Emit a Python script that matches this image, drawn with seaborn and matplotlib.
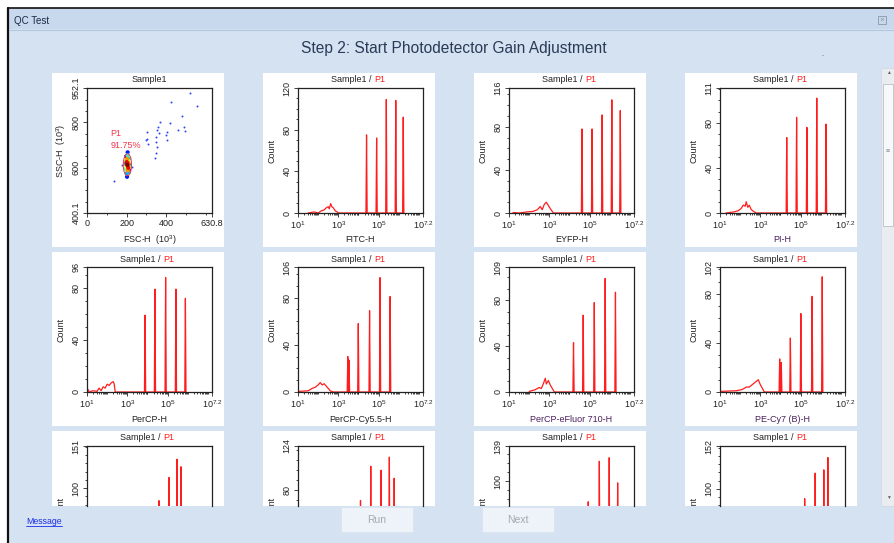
import numpy as np
import pandas as pd
import matplotlib
matplotlib.use('Agg')
import matplotlib.pyplot as plt
import seaborn as sns
from matplotlib.patches import Rectangle, Ellipse
from matplotlib.ticker import FixedLocator, MultipleLocator, NullFormatter
from matplotlib.lines import Line2D
from matplotlib.transforms import Bbox, TransformedBbox

W, H = 894, 543

# ---------------- data ----------------
# scatter panel (FSC-H vs SSC-H, units of 10^3)
cluster_fsc = [204, 200, 208, 203, 206, 199, 210, 201, 207, 197, 212, 204, 196, 213,
               200, 209, 194, 215, 205, 202, 198, 211, 203, 205]
cluster_ssc = [612, 625, 600, 640, 588, 612, 620, 598, 632, 630, 605, 655, 595, 640,
               575, 580, 618, 612, 668, 560, 650, 590, 615, 622]
cluster_level = [1.0, 0.9, 0.9, 0.75, 0.75, 0.7, 0.7, 0.6, 0.6, 0.5, 0.5, 0.4, 0.4, 0.35,
                 0.3, 0.3, 0.25, 0.2, 0.15, 0.15, 0.1, 0.1, 0.95, 0.85]
outlier_fsc = [522, 555, 425, 477, 366, 418, 304, 355, 405, 460, 489, 497, 346, 304,
               296, 348, 405, 346, 341, 137, 363, 308, 397, 179, 229, 360, 352]
outlier_ssc = [931, 874, 891, 827, 804, 797, 757, 767, 760, 767, 779, 763, 737, 725,
               722, 715, 722, 663, 645, 543, 752, 707, 745, 610, 603, 780, 690]
gate_center = (204, 613)
gate_size = (42, 97)
gate_name = 'P1'
gate_pct = '91.75%'

# histogram panels
hist_channels = ['FITC-H', 'EYFP-H', 'PI-H', 'PerCP-H', 'PerCP-Cy5.5-H',
                 'PerCP-eFluor 710-H', 'PE-Cy7 (B)-H', '', '', '', '']
hist_ymax = [120, 116, 111, 96, 106, 109, 102, 151, 124, 139, 152]
hist_yticks = [[0, 40, 80], [0, 40, 80], [0, 40, 80], [0, 40, 80], [0, 40, 80],
               [0, 40, 80], [0, 40, 80], [0, 50, 100], [0, 40, 80], [0, 50, 100],
               [0, 50, 100]]
label_purple = [False, False, True, False, False, True, True, False, False, False, False]

# peak positions (log10 of intensity) and heights (count)
peak_log = [
    [4.40, 4.90, 5.38, 5.85, 6.22],
    [4.62, 5.12, 5.62, 6.10, 6.52],
    [4.31, 4.80, 5.31, 5.80, 6.26],
    [3.88, 4.37, 4.90, 5.41, 5.88],
    [3.47, 3.53, 3.99, 4.55, 5.07, 5.57],
    [4.20, 4.68, 5.23, 5.77, 6.28],
    [3.96, 4.04, 4.49, 5.01, 5.57, 6.07],
    [4.05, 4.57, 5.07, 5.46, 5.66],
    [4.10, 4.61, 5.12, 5.53, 5.77],
    [4.45, 4.93, 5.48, 5.97, 6.39],
    [4.70, 5.20, 5.72, 6.15, 6.35],
]
peak_count = [
    [75, 72, 109, 108, 92],
    [78, 78, 91, 105, 95],
    [67, 85, 76, 102, 79],
    [59, 79, 88, 79, 72],
    [30, 27, 58, 69, 97, 81],
    [43, 67, 78, 99, 87],
    [27, 24, 44, 64, 78, 94],
    [60, 85, 113, 135, 126],
    [70, 104, 100, 113, 92],
    [60, 77, 122, 126, 98],
    [70, 88, 119, 123, 138],
]
# low-intensity debris hump
hump_log = [
    [1.5, 1.8, 2.0, 2.15, 2.3, 2.4, 2.5, 2.55, 2.62, 2.68, 2.75, 2.85, 2.95, 3.0],
    [1.2, 1.5, 1.9, 2.2, 2.4, 2.55, 2.65, 2.75, 2.85, 2.95, 3.05, 3.2],
    [1.3, 1.7, 1.9, 2.05, 2.15, 2.25, 2.3, 2.38, 2.45, 2.55, 2.7, 2.8],
    [1.0, 1.05, 1.1, 1.3, 1.5, 1.6, 1.7, 1.8, 1.9, 2.0, 2.1, 2.2, 2.3, 2.35, 2.4],
    [1.0, 1.5, 1.7, 1.85, 2.0, 2.1, 2.2, 2.3, 2.45, 2.6, 2.75],
    [2.0, 2.3, 2.5, 2.6, 2.7, 2.8, 2.85, 2.95, 3.05, 3.15, 3.25],
    [1.0, 1.8, 2.1, 2.3, 2.45, 2.6, 2.75, 2.9, 3.0, 3.1, 3.2],
    [1.5, 2.0, 2.5, 3.0], [1.5, 2.0, 2.5, 3.0], [1.5, 2.0, 2.5, 3.0], [1.5, 2.0, 2.5, 3.0],
]
hump_count = [
    [0, 1, 0, 2, 3, 5, 6, 4, 9, 6, 5, 2, 1, 0],
    [0.5, 0, 1, 1.5, 3, 6, 3, 8, 10, 7, 4, 0],
    [0, 1, 2, 4, 7, 6, 10, 5, 7, 3, 1, 0],
    [0, 2, 0, 1, 0.5, 3, 1, 4, 3, 6, 5, 7, 8, 6, 0],
    [0.5, 1, 3, 4, 6, 8, 6, 7, 4, 1, 0],
    [0.5, 2, 4, 3, 7, 12, 7, 10, 6, 3, 0],
    [0.5, 1, 2, 4, 4, 6, 8, 10, 6, 3, 0],
    [0, 4, 8, 0], [0, 4, 8, 0], [0, 4, 8, 0], [0, 4, 8, 0],
]

# ---------------- style ----------------
sns.set_theme(style='white')
plt.rcParams['font.family'] = ['Liberation Sans', 'DejaVu Sans']
plt.rcParams['mathtext.default'] = 'regular'

BG = '#D5E2F2'
TITLEBAR = '#C8D8ED'
RED = '#FF1E1E'
GATE_RED = '#F0364A'
PURPLE = '#4A1F5C'
FS = 6.5
CLIP_Y = 506  # bottom edge of the scrolled plot area


def px_axes(fig, x, y, w, h):
    return fig.add_axes([x / W, 1 - (y + h) / H, w / W, h / H])


def px_rect(fig, x, y, w, h, **kw):
    fig.add_artist(Rectangle((x / W, 1 - (y + h) / H), w / W, h / H,
                             transform=fig.transFigure, **kw))


def px_text(fig, x, y, s, **kw):
    fig.text(x / W, 1 - y / H, s, **kw)


def px_line(fig, xs, ys, **kw):
    fig.add_artist(Line2D([x / W for x in xs], [1 - y / H for y in ys],
                          transform=fig.transFigure, **kw))


def style_axes(ax):
    for sp in ax.spines.values():
        sp.set_visible(True)
        sp.set_color('#222222')
        sp.set_linewidth(0.9)
    ax.tick_params(which='both', direction='out', colors='#222222', labelsize=FS,
                   width=0.6, pad=1.5)
    ax.tick_params(which='major', length=3)
    ax.tick_params(which='minor', length=1.6)
    ax.tick_params(axis='x', which='both', bottom=True)
    ax.tick_params(axis='y', which='both', left=True)
    for lab in ax.get_yticklabels():
        lab.set_rotation(90)
        lab.set_va('center')
    ax.set_xlabel('')
    ax.set_ylabel('')
    ax.grid(False)


def panel_title(ax, y, gated=True):
    if gated:
        ax.text(0.61, y, 'Sample1 / ', transform=ax.transAxes, ha='right',
                va='center', fontsize=FS, color='#222222')
        ax.text(0.61, y, 'P1', transform=ax.transAxes, ha='left',
                va='center', fontsize=FS, color=RED)
    else:
        ax.text(0.5, y, 'Sample1', transform=ax.transAxes, ha='center',
                va='center', fontsize=FS, color='#222222')


def hist_frame(hx, hy, px, py, width=0.03):
    xs = list(hx)
    ys = list(hy)
    for c, h in zip(px, py):
        xs += [c - width, c, c + width]
        ys += [0, h, 0]
    return pd.DataFrame({'intensity': 10 ** np.array(xs), 'count': ys})


fig = plt.figure(figsize=(W / 100, H / 100), dpi=100)
fig.patch.set_facecolor('white')
clip_box = TransformedBbox(Bbox([[0, 1 - CLIP_Y / H], [1, 1]]), fig.transFigure)

# window chrome
px_rect(fig, 8, 8, W - 8, H - 8, facecolor=BG, edgecolor='none', zorder=-3)
px_rect(fig, 8, 8, W - 8, 21, facecolor=TITLEBAR, edgecolor='none', zorder=-2)
px_line(fig, [8, 8], [7.5, H], color='#111111', lw=1.6, zorder=-1)
px_line(fig, [8, W], [8, 8], color='#111111', lw=1.2, zorder=-1)
px_line(fig, [9, W], [29.5, 29.5], color='#B5C7DF', lw=0.8, zorder=-1)
px_text(fig, 14, 21, 'QC Test', fontsize=7, color='#1A2A40', va='center', ha='left')
px_rect(fig, 878, 16, 8, 8, facecolor='none', edgecolor='#8C97A6', lw=0.6, zorder=1)
px_text(fig, 882, 20, '×', fontsize=6, color='#8C97A6', va='center', ha='center')
px_text(fig, 454, 49, 'Step 2: Start Photodetector Gain Adjustment', fontsize=11.2,
        color='#2A3B57', va='center', ha='center')
px_text(fig, 822, 54, '.', fontsize=5, color='#333333', va='center', ha='center')

col_x = [52, 263, 474, 685]
row_y = [73, 252, 431]
jet = matplotlib.colormaps['jet']

for i in range(12):
    r, c = divmod(i, 4)
    bx, by = col_x[c], row_y[r]
    box_h = min(174, CLIP_Y - by)
    px_rect(fig, bx, by, 172, box_h, facecolor='white', edgecolor='none', zorder=-1)
    ax_top = by + 15
    ax_h = min(125, CLIP_Y - ax_top)
    ax = px_axes(fig, bx + 35, ax_top, 125, ax_h)
    ax.set_facecolor('white')
    ty = 1 + 8 / ax_h

    if i == 0:
        order = np.argsort(cluster_level)
        cl = pd.DataFrame({'fsc': np.array(cluster_fsc)[order],
                           'ssc': np.array(cluster_ssc)[order],
                           'level': np.array(cluster_level)[order]})
        sns.scatterplot(x=outlier_fsc, y=outlier_ssc, color='#2F45F5', s=2,
                        linewidth=0, ax=ax)
        sns.scatterplot(data=cl, x='fsc', y='ssc', hue='level', palette=jet,
                        hue_norm=(0, 1), s=9, linewidth=0, legend=False, ax=ax)
        ax.add_patch(Ellipse(gate_center, gate_size[0], gate_size[1], facecolor='none',
                             edgecolor=GATE_RED, lw=0.7))
        ax.text(117, 749, gate_name, fontsize=FS, color=GATE_RED, ha='left', va='center')
        ax.text(117, 697, gate_pct, fontsize=FS, color=GATE_RED, ha='left', va='center')
        ax.set_xlim(0, 630.8)
        ax.set_ylim(400.1, 952.1)
        ax.xaxis.set_major_locator(FixedLocator([0, 200, 400, 630.8]))
        ax.set_xticklabels(['0', '200', '400', '630.8'])
        ax.yaxis.set_major_locator(FixedLocator([400.1, 600, 800, 952.1]))
        ax.set_yticklabels(['400.1', '600', '800', '952.1'])
        ax.xaxis.set_minor_locator(MultipleLocator(100))
        ax.yaxis.set_minor_locator(MultipleLocator(50))
        style_axes(ax)
        ax.text(0.5, -27 / 125, 'FSC-H  (10$^3$)', transform=ax.transAxes, ha='center',
                va='center', fontsize=FS, color='#222222')
        ax.text(-26 / 125, 0.5, 'SSC-H  (10$^3$)', transform=ax.transAxes, ha='center',
                va='center', rotation=90, fontsize=FS, color='#222222')
        panel_title(ax, ty, gated=False)
        continue

    k = i - 1
    clipped = ax_h < 125
    df = hist_frame(hump_log[k], hump_count[k], peak_log[k], peak_count[k])
    sns.lineplot(data=df, x='intensity', y='count', sort=False, estimator=None,
                 color=RED, lw=0.9, ax=ax)
    ax.set_xscale('log')
    ax.set_xlim(10, 10 ** 7.2)
    # a clipped panel only shows the top part of its 0..max range
    ax.set_ylim(hist_ymax[k] * (1 - ax_h / 125), hist_ymax[k])
    yt = hist_yticks[k] + [hist_ymax[k]]
    ax.yaxis.set_major_locator(FixedLocator(yt))
    ax.set_yticklabels([str(v) for v in yt])
    ax.yaxis.set_minor_locator(MultipleLocator(10))
    if clipped:
        ax.set_xticks([])
        ax.xaxis.set_minor_locator(FixedLocator([]))
    else:
        ax.xaxis.set_major_locator(FixedLocator([10, 1e3, 1e5, 10 ** 7.2]))
        ax.set_xticklabels(['$10^{1}$', '$10^{3}$', '$10^{5}$', '$10^{7.2}$'])
        minor = [m * 10 ** d for d in range(1, 8) for m in range(1, 10)
                 if m * 10 ** d < 10 ** 7.2 and not (m == 1 and d in (1, 3, 5))]
        ax.xaxis.set_minor_locator(FixedLocator(minor))
        ax.xaxis.set_minor_formatter(NullFormatter())
    style_axes(ax)
    if clipped:
        ax.spines['bottom'].set_visible(False)
        cnt = ax.text(-26 / 125, (125 / 2) / 125, 'Count', transform=ax.transAxes,
                      ha='center', va='center', rotation=90, fontsize=FS, color='#222222')
        # transform: place relative to full panel height, then clip to the visible area
        cnt.set_position((-26 / 125, 1 - 62.5 / ax_h))
        cnt.set_clip_box(clip_box)
        cnt.set_clip_on(True)
    else:
        ax.text(0.5, -27 / 125, hist_channels[k], transform=ax.transAxes, ha='center',
                va='center', fontsize=FS,
                color=PURPLE if label_purple[k] else '#222222')
        ax.text(-26 / 125, 0.5, 'Count', transform=ax.transAxes, ha='center',
                va='center', rotation=90, fontsize=FS, color='#222222')
    panel_title(ax, ty)

# scrollbar
px_rect(fig, 881, 68, 13, 438, facecolor='#E9EDF2', edgecolor='#D0D6DE', lw=0.5, zorder=6)
px_rect(fig, 883, 84, 10, 142, facecolor='#F7F8FA', edgecolor='#B9C0C9', lw=0.6, zorder=7)
px_text(fig, 888, 73, '▲', fontsize=3.5, color='#606060', ha='center', va='center', zorder=7)
px_text(fig, 888, 497, '▼', fontsize=3.5, color='#606060', ha='center', va='center', zorder=7)
px_text(fig, 888, 152, '≡', fontsize=5, color='#808890', ha='center', va='center', zorder=7)

# bottom buttons
px_text(fig, 26, 521, 'Message', fontsize=6.3, color='#1A2EE8', ha='left', va='center',
        zorder=7)
px_line(fig, [26, 62], [526, 526], color='#1A2EE8', lw=0.6, zorder=7)
px_rect(fig, 341, 507, 72, 25, facecolor='#EEF3FA', edgecolor='#DCE4EF', lw=0.6, zorder=6)
px_rect(fig, 482, 507, 72, 25, facecolor='#EEF3FA', edgecolor='#DCE4EF', lw=0.6, zorder=6)
px_text(fig, 377, 520, 'Run', fontsize=7.5, color='#A4A8AE', ha='center', va='center',
        zorder=7)
px_text(fig, 518, 520, 'Next', fontsize=7.5, color='#A4A8AE', ha='center', va='center',
        zorder=7)

fig.savefig('out.png', dpi=100, facecolor=fig.get_facecolor())
